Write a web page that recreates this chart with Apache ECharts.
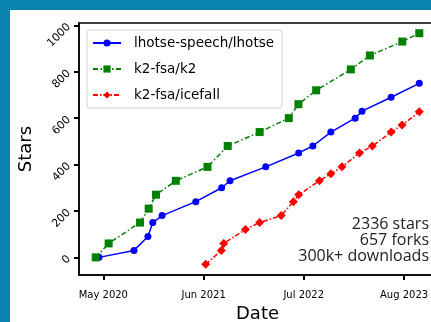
<!DOCTYPE html>
<html>
<head>
<meta charset="utf-8">
<script src="https://cdn.jsdelivr.net/npm/echarts@6/dist/echarts.min.js"></script>
<style>
html, body { margin: 0; padding: 0; background: #fff; }
#chart { width: 431px; height: 322px; }
</style>
</head>
<body>
<div id="chart"></div>
<script>
// star history
var lhotseDates = ['2020-04-14', '2020-08-30', '2020-10-24', '2020-11-12', '2020-12-19', '2021-05-01', '2021-08-11', '2021-09-13',
    '2022-02-01', '2022-06-11', '2022-08-06', '2022-10-16', '2023-01-20', '2023-02-16', '2023-06-11', '2023-09-30'];
var lhotseStars = [0, 30, 90, 150, 180, 240, 300, 330, 390, 450, 480, 540, 600, 630, 690, 750];

var k2Dates = ['2020-04-01', '2020-05-22', '2020-09-23', '2020-10-27', '2020-11-25', '2021-02-11', '2021-06-16', '2021-09-04',
    '2022-01-08', '2022-05-03', '2022-06-10', '2022-08-19', '2023-01-03', '2023-03-19', '2023-07-25', '2023-09-30'];
var k2Stars = [0, 60, 150, 210, 270, 330, 390, 480, 540, 600, 660, 720, 810, 870, 930, 966];

var icefallDates = ['2021-06-09', '2021-08-10', '2021-08-19', '2021-11-13', '2022-01-08', '2022-04-03', '2022-05-21', '2022-06-11',
    '2022-09-01', '2022-10-16', '2022-11-29', '2023-02-06', '2023-03-29', '2023-06-11', '2023-07-24', '2023-09-30'];
var icefallStars = [-30, 30, 60, 120, 150, 180, 240, 270, 330, 360, 390, 450, 480, 540, 570, 627];

var xTicks = ['2020-05-01', '2021-06-01', '2022-07-01', '2023-08-01'];
var yTicks = [0, 200, 400, 600, 800, 1000];
var months = ['Jan', 'Feb', 'Mar', 'Apr', 'May', 'Jun', 'Jul', 'Aug', 'Sep', 'Oct', 'Nov', 'Dec'];

function ts(s) {
    var p = s.split('-');
    return Date.UTC(+p[0], +p[1] - 1, +p[2]);
}
function pairs(dates, vals) {
    return dates.map(function (d, i) { return [ts(d), vals[i]]; });
}

var font = '"DejaVu Sans", sans-serif';
var chart = echarts.init(document.getElementById('chart'));
chart.setOption({
    animation: false,
    backgroundColor: '#fff',
    textStyle: { fontFamily: font },
    grid: {
        left: 79, top: 23, right: -5, bottom: 47,
        outerBoundsMode: 'none',
        show: true, borderColor: '#000', borderWidth: 1.5, backgroundColor: 'transparent'
    },
    legend: {
        orient: 'vertical',
        left: 87, top: 30,
        padding: [6, 8, 6, 5],
        itemWidth: 28, itemHeight: 9, itemGap: 12,
        backgroundColor: '#fff',
        borderColor: '#d0d0d0', borderWidth: 1, borderRadius: 3,
        textStyle: { fontFamily: font, fontSize: 13.5, color: '#000', padding: [0, 0, 0, 8] },
        data: ['lhotse-speech/lhotse', 'k2-fsa/k2', 'k2-fsa/icefall']
    },
    xAxis: {
        type: 'value',
        min: ts('2020-01-26'),
        max: ts('2023-12-05'),
        name: 'Date',
        nameLocation: 'middle',
        nameGap: 29,
        nameTextStyle: { fontFamily: font, fontSize: 18, color: '#000' },
        axisLine: { show: true, onZero: false, lineStyle: { color: '#000', width: 1.5 } },
        axisTick: { show: true, length: 5, lineStyle: { color: '#000', width: 2 }, customValues: xTicks.map(ts) },
        axisLabel: {
            fontFamily: font, fontSize: 10, color: '#000', margin: 15,
            customValues: xTicks.map(ts),
            formatter: function (v) {
                var d = new Date(v);
                return months[d.getUTCMonth()] + ' ' + d.getUTCFullYear();
            }
        },
        splitLine: { show: false }
    },
    yAxis: {
        type: 'value',
        min: -76, max: 1010,
        name: 'Stars',
        nameLocation: 'middle',
        nameGap: 38,
        nameTextStyle: { fontFamily: font, fontSize: 18, color: '#000' },
        axisLine: { show: true, onZero: false, lineStyle: { color: '#000', width: 1.5 } },
        axisTick: { show: true, length: 5, lineStyle: { color: '#000', width: 2 }, customValues: yTicks },
        axisLabel: {
            fontFamily: font, fontSize: 11, color: '#000', margin: 10, rotate: 45, customValues: yTicks,
            formatter: function (v) { return String(v); }
        },
        splitLine: { show: false }
    },
    series: [
        {
            name: 'lhotse-speech/lhotse', type: 'line',
            data: pairs(lhotseDates, lhotseStars),
            symbol: 'circle', symbolSize: 7,
            itemStyle: { color: '#0000ff' },
            lineStyle: { color: '#0000ff', width: 1.5, type: 'solid' }
        },
        {
            name: 'k2-fsa/k2', type: 'line',
            data: pairs(k2Dates, k2Stars),
            symbol: 'rect', symbolSize: 8,
            itemStyle: { color: '#008000' },
            lineStyle: { color: '#008000', width: 1.5, type: [5, 2.5, 1.5, 2.5] }
        },
        {
            name: 'k2-fsa/icefall', type: 'line',
            data: pairs(icefallDates, icefallStars),
            symbol: 'diamond', symbolSize: 9,
            itemStyle: { color: '#ff0000' },
            lineStyle: { color: '#ff0000', width: 1.5, type: [5, 2, 1.5, 2] }
        }
    ],
    graphic: [
        { type: 'rect', shape: { x: 0, y: 0, width: 431, height: 10 }, style: { fill: '#0a83ae' }, z: 100 },
        { type: 'rect', shape: { x: 0, y: 0, width: 10, height: 322 }, style: { fill: '#0a83ae' }, z: 100 },
        {
            type: 'text', x: 429, y: 216, z: 50,
            style: {
                text: '2336 stars\n657 forks\n300k+ downloads',
                align: 'right', verticalAlign: 'top',
                font: '16px "Open Sans", sans-serif', lineHeight: 16, fill: '#222'
            }
        }
    ]
});
</script>
</body>
</html>
